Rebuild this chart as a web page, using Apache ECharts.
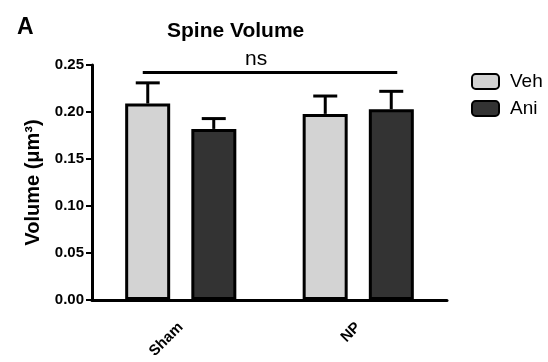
<!DOCTYPE html>
<html><head><meta charset="utf-8">
<script src="https://cdn.jsdelivr.net/npm/echarts@6/dist/echarts.min.js"></script>
<style>html,body{margin:0;padding:0;background:#fff}#c{width:548px;height:362px}</style>
</head><body><div id="c"></div>
<script>
const categories = ['Sham', 'NP'];
const vehMean = [0.209, 0.198];
const vehErrTop = [0.231, 0.217];
const aniMean = [0.182, 0.203];
const aniErrTop = [0.193, 0.222];
const yTicks = [0, 0.05, 0.10, 0.15, 0.20, 0.25];
const sigY = 0.242;

const FONT = 'Arial, "Liberation Sans", sans-serif';
const chart = echarts.init(document.getElementById('c'), null, {renderer: 'canvas'});

function errSeries(name, tops, means, offset) {
  return {
    type: 'custom', name: name + '_err', silent: true, z: 1,
    data: categories.map((c, i) => [i, means[i], tops[i]]),
    renderItem: function (params, api) {
      const base = api.coord([api.value(0), api.value(1)]);
      const top = api.coord([api.value(0), api.value(2)]);
      const x = base[0] + offset;
      return {type: 'group', children: [
        {type: 'line', shape: {x1: x, y1: base[1], x2: x, y2: top[1]}, style: {stroke: '#000', lineWidth: 3}},
        {type: 'line', shape: {x1: x - 12, y1: top[1], x2: x + 12, y2: top[1]}, style: {stroke: '#000', lineWidth: 3}}
      ]};
    }
  };
}

const option = {
  animation: false,
  backgroundColor: '#fff',
  textStyle: {fontFamily: FONT},
  grid: {left: 92, right: 101, top: 65, bottom: 62, containLabel: false},
  title: [
    {text: 'A', left: 12, top: 11, textStyle: {fontFamily: FONT, fontSize: 23, fontWeight: 'bold', color: '#000'}},
    {text: 'Spine Volume', left: 167, top: 21, padding: 0, textStyle: {fontFamily: FONT, fontSize: 21, fontWeight: 'bold', color: '#000'}},
    {text: 'ns', left: 245, top: 49, padding: 0, textStyle: {fontFamily: FONT, fontSize: 21, fontWeight: 'normal', color: '#000'}}
  ],
  legend: {
    orient: 'vertical', left: 471, top: 72, itemGap: 8, padding: 0,
    itemWidth: 27, itemHeight: 15, icon: 'roundRect',
    data: ['Veh', 'Ani'],
    textStyle: {fontFamily: FONT, fontSize: 19, color: '#000', padding: [0, 0, 0, 6]}
  },
  xAxis: {
    type: 'category', data: categories,
    axisLine: {lineStyle: {color: '#000', width: 3}},
    axisTick: {alignWithLabel: true, length: 5, lineStyle: {color: '#000', width: 2}},
    axisLabel: {rotate: 45, margin: 25, color: '#000', fontWeight: 'bold', fontSize: 15, fontFamily: FONT}
  },
  yAxis: {
    type: 'value', min: 0, max: 0.25, interval: 0.05,
    name: 'Volume (μm³)', nameLocation: 'middle', nameGap: 47,
    nameTextStyle: {fontFamily: FONT, fontSize: 20, fontWeight: 'bold', color: '#000'},
    axisLine: {show: true, lineStyle: {color: '#000', width: 3}},
    axisTick: {show: true, length: 6, lineStyle: {color: '#000', width: 2}},
    splitLine: {show: false},
    axisLabel: {margin: 8, color: '#000', fontWeight: 'bold', fontSize: 15, fontFamily: FONT,
      formatter: v => yTicks.some(t => Math.abs(t - v) < 1e-9) ? v.toFixed(2) : ''}
  },
  series: [
    {name: 'Veh', type: 'bar', data: vehMean, barWidth: 45, barGap: '47%', z: 2,
     itemStyle: {color: '#d3d3d3', borderColor: '#000', borderWidth: 3}},
    {name: 'Ani', type: 'bar', data: aniMean, barWidth: 45, barGap: '47%', z: 2,
     itemStyle: {color: '#333333', borderColor: '#000', borderWidth: 3}},
    errSeries('Veh', vehErrTop, vehMean, -33),
    errSeries('Ani', aniErrTop, aniMean, 33)
  ]
};
chart.setOption(option);

const pL = chart.convertToPixel({xAxisIndex: 0, yAxisIndex: 0}, [0, sigY]);
const pR = chart.convertToPixel({xAxisIndex: 0, yAxisIndex: 0}, [1, sigY]);
chart.setOption({graphic: [{type: 'line', shape: {x1: pL[0] - 38, y1: pL[1], x2: pR[0] + 39, y2: pR[1]},
  style: {stroke: '#000', lineWidth: 3}, z: 5}]});
</script></body></html>
